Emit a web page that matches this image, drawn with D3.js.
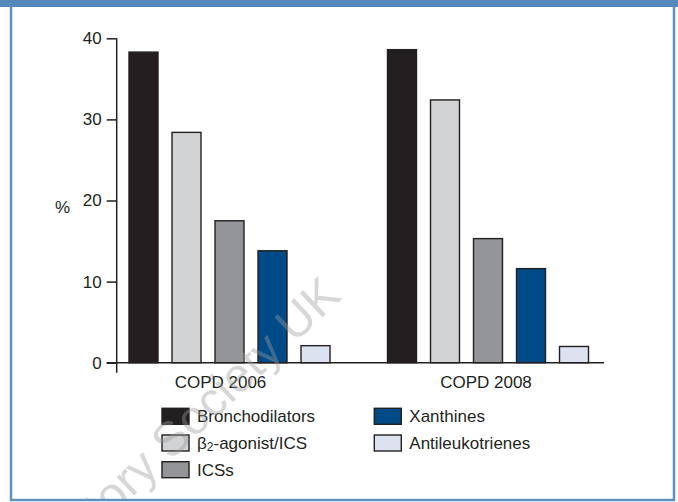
<!DOCTYPE html>
<html>
<head>
<meta charset="utf-8">
<script src="https://cdn.jsdelivr.net/npm/d3@7"></script>
<style>
    html, body { margin: 0; padding: 0; background: #fff; }
    svg { display: block; font-family: 'Liberation Sans', Arial, sans-serif; }
</style>
</head>
<body>
<svg id="chart" width="678" height="502"></svg>
<script>
const groups = ['COPD 2006', 'COPD 2008']
const series = ['Bronchodilators', 'β2-agonist/ICS', 'ICSs', 'Xanthines', 'Antileukotrienes']
const values2006 = [38.3, 28.4, 17.5, 13.8, 2.1]
const values2008 = [38.6, 32.4, 15.3, 11.6, 2.0]
const yTicks = [0, 10, 20, 30, 40]
const colors = ['#231f20', '#d1d3d4', '#939598', '#004b87', '#dce2ef']

const rows = groups.map((g, i) => {
    const vals = i === 0 ? values2006 : values2008
    return { group: g, items: series.map((s, j) => ({ key: s, value: vals[j] })) }
})

const ink = '#231f20'
const svg = d3.select('#chart')

svg.append('defs').append('clipPath')
    .attr('id', 'inside')
    .append('rect')
    .attr('x', 12).attr('y', 7).attr('width', 661).attr('height', 492)

// frame
svg.append('rect')
    .attr('x', 11).attr('y', 4).attr('width', 663).attr('height', 496)
    .attr('fill', 'none').attr('stroke', '#5f90c2').attr('stroke-width', 2.5)
svg.append('rect')
    .attr('x', 0).attr('y', 0).attr('width', 678).attr('height', 7)
    .attr('fill', '#5588bb')

const x0 = d3.scaleBand().domain(groups).range([129, 588.5]).paddingInner(0.2224)
const x1 = d3.scaleBand().domain(series).range([0, x0.bandwidth()]).paddingInner(0.326)
const y = d3.scaleLinear().domain([0, 40]).range([362.7, 38.3])
const color = d3.scaleOrdinal().domain(series).range(colors)

const axisX = 116.7

// bars
const g = svg.append('g')
g.selectAll('g.grp')
    .data(rows)
    .join('g')
    .attr('class', 'grp')
    .attr('transform', d => `translate(${x0(d.group)}, 0)`)
    .selectAll('rect')
    .data(d => d.items)
    .join('rect')
    .attr('x', d => x1(d.key))
    .attr('y', d => y(d.value))
    .attr('width', x1.bandwidth())
    .attr('height', d => y(0) - y(d.value))
    .attr('fill', d => color(d.key))
    .attr('stroke', ink)
    .attr('stroke-width', 1.4)

// baseline
svg.append('line')
    .attr('x1', axisX - 10).attr('x2', 604)
    .attr('y1', y(0)).attr('y2', y(0))
    .attr('stroke', ink).attr('stroke-width', 1.5)

// y axis
const yAxis = svg.append('g')
    .attr('transform', `translate(${axisX}, 0)`)
    .call(d3.axisLeft(y).tickValues(yTicks).tickSize(10).tickPadding(5).tickSizeOuter(0))
yAxis.select('.domain').remove()
yAxis.append('line')
    .attr('y1', y(40)).attr('y2', y(0) + 10)
    .attr('stroke', ink).attr('stroke-width', 1.5)
yAxis.selectAll('.tick line').attr('stroke', ink).attr('stroke-width', 1.5)
yAxis.selectAll('.tick text')
    .attr('fill', ink)
    .attr('font-size', 17)
    .attr('font-family', 'Liberation Sans, Arial, sans-serif')

svg.append('text')
    .attr('x', 55).attr('y', 213)
    .attr('font-size', 17).attr('fill', ink)
    .text('%')

// group labels
svg.selectAll('text.grp-label')
    .data(groups)
    .join('text')
    .attr('class', 'grp-label')
    .attr('x', (d, i) => x0(d) + x0.bandwidth() / 2 - (i === 0 ? 9 : 2))
    .attr('y', 387.5)
    .attr('text-anchor', 'middle')
    .attr('font-size', 17).attr('fill', ink)
    .text(d => d)

// legend
const legendCols = [162, 374.3]
const legendRows = [408.3, 435, 461.7]
const legend = svg.append('g')
    .selectAll('g')
    .data(series)
    .join('g')
    .attr('transform', (d, i) => {
        const col = i < 3 ? 0 : 1
        const row = i < 3 ? i : i - 3
        return `translate(${legendCols[col]}, ${legendRows[row]})`
    })
legend.append('rect')
    .attr('width', 27).attr('height', 16)
    .attr('fill', d => color(d))
    .attr('stroke', ink).attr('stroke-width', 1.4)
legend.append('text')
    .attr('x', 35).attr('y', 14)
    .attr('font-size', 17).attr('fill', ink)
    .each(function (d) {
        const t = d3.select(this)
        if (d.startsWith('β2')) {
            t.append('tspan').text('β')
            t.append('tspan').attr('font-size', 12).attr('dy', 2).text('2')
            t.append('tspan').attr('dy', -2).text(d.slice(2))
        } else {
            t.text(d)
        }
    })

// watermark, clipped to the frame like the source
svg.append('g')
    .attr('clip-path', 'url(#inside)')
    .append('text')
    .attr('transform', 'translate(343, 298) rotate(-43.4)')
    .attr('text-anchor', 'end')
    .attr('font-size', 48)
    .attr('fill', '#9a9a9a')
    .attr('fill-opacity', 0.4)
    .text('Respiratory Society UK')
</script>
</body>
</html>
